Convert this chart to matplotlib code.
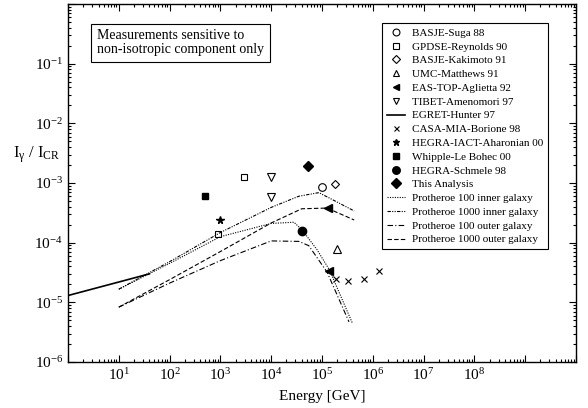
import numpy as np
import matplotlib
matplotlib.use("Agg")
import matplotlib.pyplot as plt
from matplotlib.ticker import LogLocator, FuncFormatter, NullFormatter

plt.rcParams['font.family'] = ['Liberation Serif', 'DejaVu Serif']
plt.rcParams['mathtext.fontset'] = 'custom'
plt.rcParams['mathtext.rm'] = 'Liberation Serif'
plt.rcParams['mathtext.it'] = 'Liberation Serif:italic'
plt.rcParams['axes.unicode_minus'] = False

# measured points (energy in GeV, I_gamma / I_CR)
suga_E, suga_I = [1.0e5], [8.7e-4]
reynolds_E, reynolds_I = [2.9e3, 9.0e2], [1.27e-3, 1.4e-4]
kakimoto_E, kakimoto_I = [1.8e5], [9.8e-4]
matthews_E, matthews_I = [2.0e5], [7.9e-5]
aglietta_E, aglietta_I = [1.3e5, 1.4e5], [3.8e-4, 3.3e-5]
amenomori_E, amenomori_I = [1.0e4, 1.0e4], [1.27e-3, 5.9e-4]
hunter_E, hunter_I = [1.0, 40.0], [1.3e-5, 3.0e-5]
borione_E, borione_I = [1.86e5, 3.2e5, 6.8e5, 1.3e6], [2.5e-5, 2.3e-5, 2.5e-5, 3.4e-5]
aharonian_E, aharonian_I = [1.0e3], [2.4e-4]
lebohec_E, lebohec_I = [5.0e2], [6.0e-4]
schmele_E, schmele_I = [4.0e4], [1.55e-4]
this_E, this_I = [5.4e4], [1.9e-3]

# Protheroe model curves
p100_in_E = [10, 100, 1e3, 1e4, 2.8e4, 4e4, 8e4, 1.4e5, 4e5]
p100_in_I = [1.66e-5, 4.5e-5, 1.26e-4, 2.1e-4, 2.2e-4, 1.66e-4, 7.6e-5, 3.5e-5, 4.4e-6]
p1000_in_E = [10, 100, 1e3, 1e4, 3.5e4, 8.7e4, 4.3e5]
p1000_in_I = [1.66e-5, 4.8e-5, 1.48e-4, 3.9e-4, 6.0e-4, 6.9e-4, 3.4e-4]
p100_out_E = [10, 100, 1e3, 1e4, 3.5e4, 5.5e4, 1.26e5, 3.4e5]
p100_out_I = [8.3e-6, 2.1e-5, 5.0e-5, 1.07e-4, 1.05e-4, 8.9e-5, 3.2e-5, 4.7e-6]
p1000_out_E = [10, 100, 1e3, 1e4, 4e4, 1.26e5, 4.3e5]
p1000_out_I = [8.3e-6, 2.4e-5, 7.1e-5, 2.14e-4, 3.7e-4, 3.8e-4, 2.4e-4]

fig = plt.figure(figsize=(5.88, 4.08), dpi=100)
ax = fig.add_axes([68 / 588, 1 - 362 / 408, 508 / 588, 358 / 408])

ms = 5.5
ax.plot(suga_E, suga_I, 'o', mfc='white', mec='black', ms=ms, mew=0.8, ls='none', label='BASJE-Suga 88')
ax.plot(reynolds_E, reynolds_I, 's', mfc='white', mec='black', ms=ms - 0.5, mew=0.8, ls='none', label='GPDSE-Reynolds 90')
ax.plot(kakimoto_E, kakimoto_I, 'D', mfc='white', mec='black', ms=ms - 1.5, mew=0.8, ls='none', label='BASJE-Kakimoto 91')
ax.plot(matthews_E, matthews_I, '^', mfc='white', mec='black', ms=ms, mew=0.8, ls='none', label='UMC-Matthews 91')
ax.plot(aglietta_E, aglietta_I, '<', color='black', ms=ms, ls='none', label='EAS-TOP-Aglietta 92')
ax.plot(amenomori_E, amenomori_I, 'v', mfc='white', mec='black', ms=ms, mew=0.8, ls='none', label='TIBET-Amenomori 97')
ax.plot(hunter_E, hunter_I, '-', color='black', lw=1.2, label='EGRET-Hunter 97')
ax.plot(borione_E, borione_I, 'x', color='black', ms=4, mew=0.8, ls='none', label='CASA-MIA-Borione 98')
ax.plot(aharonian_E, aharonian_I, '*', color='black', ms=ms, ls='none', label='HEGRA-IACT-Aharonian 00')
ax.plot(lebohec_E, lebohec_I, 's', color='black', ms=ms - 0.5, ls='none', label='Whipple-Le Bohec 00')
ax.plot(schmele_E, schmele_I, 'o', color='black', ms=ms + 0.5, ls='none', label='HEGRA-Schmele 98')
ax.plot(this_E, this_I, 'D', color='black', ms=ms, ls='none', label='This Analysis')

ax.plot(p100_in_E, p100_in_I, color='black', lw=0.8, ls=(0, (1, 1.2)), label='Protheroe 100 inner galaxy')
ax.plot(p1000_in_E, p1000_in_I, color='black', lw=0.8, ls=(0, (3, 1.2, 1, 1.2, 1, 1.2)), label='Protheroe 1000 inner galaxy')
ax.plot(p100_out_E, p100_out_I, color='black', lw=0.8, ls=(0, (5, 2, 1, 2)), label='Protheroe 100 outer galaxy')
ax.plot(p1000_out_E, p1000_out_I, color='black', lw=0.8, ls=(0, (4, 2)), label='Protheroe 1000 outer galaxy')

ax.set_xscale('log')
ax.set_yscale('log')
ax.set_xlim(1, 1e10)
ax.set_ylim(1e-6, 1)

ax.xaxis.set_major_locator(LogLocator(base=10, numticks=20))
ax.xaxis.set_minor_locator(LogLocator(base=10, subs=np.arange(2, 10), numticks=20))
ax.yaxis.set_major_locator(LogLocator(base=10, numticks=20))
ax.yaxis.set_minor_locator(LogLocator(base=10, subs=np.arange(2, 10), numticks=20))


def xfmt(v, pos):
    e = int(round(np.log10(v)))
    return r'$10^{%d}$' % e if 1 <= e <= 8 else ''


def yfmt(v, pos):
    e = int(round(np.log10(v)))
    return r'$10^{%d}$' % e if e <= -1 else ''


ax.xaxis.set_major_formatter(FuncFormatter(xfmt))
ax.yaxis.set_major_formatter(FuncFormatter(yfmt))
ax.xaxis.set_minor_formatter(NullFormatter())
ax.yaxis.set_minor_formatter(NullFormatter())
ax.tick_params(which='both', direction='in', top=True, right=True, labelsize=11, width=0.8)
ax.tick_params(which='major', length=5)
ax.tick_params(which='minor', length=2.5)
for s in ax.spines.values():
    s.set_linewidth(1.0)

ax.set_xlabel('Energy [GeV]', fontsize=11, labelpad=5)
ax.set_ylabel(r'I$_\mathrm{γ}$ / I$_\mathrm{CR}$', fontsize=12, rotation=0)
ax.yaxis.set_label_coords(-0.061, 0.55)

ax.text(0.057, 0.93, 'Measurements sensitive to\nnon-isotropic component only', transform=ax.transAxes,
        fontsize=10, va='top', ha='left', linespacing=1.1,
        bbox=dict(boxstyle='square,pad=0.4', fc='white', ec='black', lw=0.8))

leg = ax.legend(loc='upper right', bbox_to_anchor=(0.945, 0.947), fontsize=8, frameon=True, fancybox=False,
                edgecolor='black', framealpha=1, labelspacing=0.36, handlelength=1.6, handletextpad=0.6,
                borderpad=0.45, borderaxespad=0, markerscale=0.9)
leg.get_frame().set_linewidth(0.8)

# hide the blank tick labels so they do not count as text
fig.canvas.draw()
for lab in ax.get_xticklabels(which='both') + ax.get_yticklabels(which='both'):
    if lab.get_text() == '':
        lab.set_visible(False)

fig.savefig('out.png', dpi=100)
